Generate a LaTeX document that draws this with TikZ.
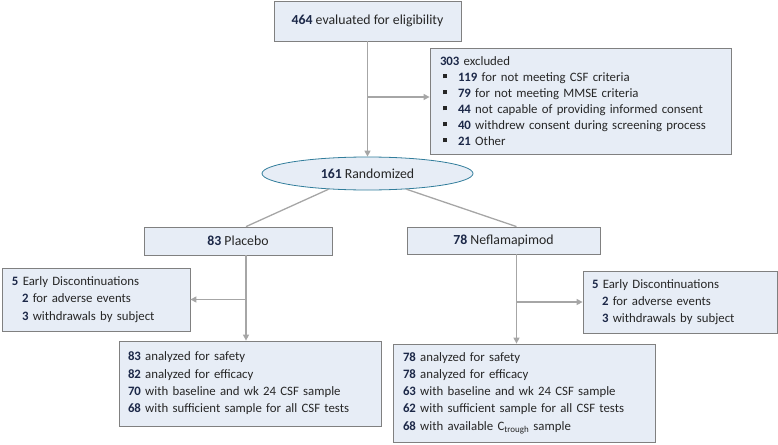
\documentclass[tikz,border=0pt]{standalone}
\usepackage{fontspec}
\setmainfont{Carlito}
\usepackage{tikz}
\usetikzlibrary{arrows.meta,shapes.geometric}
\definecolor{boxfill}{RGB}{231,237,246}
\definecolor{boxline}{RGB}{128,128,128}
\definecolor{ovalline}{RGB}{49,125,155}
\definecolor{linkgray}{RGB}{166,166,166}
\definecolor{numcol}{RGB}{28,40,72}
\definecolor{txtcol}{RGB}{38,38,38}
\newcommand{\nb}[1]{\textbf{\color{numcol}#1}}
\newcommand{\bul}{\hspace*{3pt}\rule[3pt]{4pt}{4pt}\hspace*{11pt}}
\newcommand{\ind}{\hspace*{10pt}}
\tikzset{
  box/.style={draw=boxline, fill=boxfill, line width=0.8pt, inner sep=0pt, text=txtcol,
    font=\fontsize{12.8}{17.3}\selectfont},
  titlebox/.style={box, font=\fontsize{13.8}{17}\selectfont},
  listbox/.style={box, align=left},
  link/.style={draw=linkgray, line width=1.3pt},
  arr/.style={link, -{Triangle[length=6pt,width=6pt]}},
}

\begin{document}
\begin{tikzpicture}[x=1pt, y=-1pt]
			%%%%% START %%%%%
			\useasboundingbox (0, 0) rectangle (778, 444);
			
			\node[titlebox, minimum width=187pt, minimum height=40pt] (elig) at (367.5, 21) {\nb{464} evaluated for eligibility};
			\node[listbox, text width=281pt, minimum height=106pt, inner xsep=10pt,
			  font=\fontsize{12.8}{16}\selectfont] (excl) at (580.5, 101)
			  {\nb{303} excluded\\
			   \bul\nb{119} for not meeting CSF criteria\\
			   \bul\nb{79} for not meeting MMSE criteria\\
			   \bul\nb{44} not capable of providing informed consent\\
			   \bul\nb{40} withdrew consent during screening process\\
			   \bul\nb{21} Other};
			\node[titlebox, ellipse, draw=ovalline, minimum width=211pt, minimum height=33pt] (rand) at (367.5, 173.5) {\nb{161} Randomized};
			
			\node[titlebox, minimum width=188pt, minimum height=28pt] (plac) at (238, 241) {\nb{83} Placebo};
			\node[titlebox, minimum width=193pt, minimum height=27pt] (nefl) at (503.5, 240.5) {\nb{78} Neflamapimod};
			
			\node[listbox, text width=168pt, minimum height=63pt, inner xsep=10pt] (discL) at (96, 299.5)
			  {\nb{5} Early Discontinuations\\ \ind\nb{2} for adverse events\\ \ind\nb{3} withdrawals by subject};
			\node[listbox, text width=176pt, minimum height=62pt, inner xsep=9pt] (discR) at (680, 302)
			  {\nb{5} Early Discontinuations\\ \ind\nb{2} for adverse events\\ \ind\nb{3} withdrawals by subject};
			
			\node[listbox, text width=244pt, minimum height=85pt, inner xsep=9pt] (resL) at (250, 383.5)
			  {\nb{83} analyzed for safety\\ \nb{82} analyzed for efficacy\\
			   \nb{70} with baseline and wk 24 CSF sample\\ \nb{68} with sufficient sample for all CSF tests};
			\node[listbox, text width=242pt, minimum height=98pt, inner xsep=10pt] (resR) at (524, 393)
			  {\nb{78} analyzed for safety\\ \nb{78} analyzed for efficacy\\
			   \nb{63} with baseline and wk 24 CSF sample\\ \nb{62} with sufficient sample for all CSF tests\\
			   \nb{68} with available C\textsubscript{trough} sample};
			
			% trunks
			\coordinate (trL) at (246, 0);
			\coordinate (trR) at (516.5, 0);
			
			\draw[arr] (elig.south) -- (rand.north);
			\draw[arr] (elig.south |- 0, 97) -- (excl.west |- 0, 97);
			
			\draw[link] (rand.202) -- (trL |- plac.north);
			\draw[link] (rand.338) -- (trR |- nefl.north);
			
			\draw[arr] (trL |- plac.south) -- (trL |- resL.north);
			\draw[arr] (trL |- discL.east) -- (discL.east);
			\draw[arr] (trR |- nefl.south) -- (trR |- resR.north);
			\draw[arr] (trR |- discR.west) -- (discR.west);
			%%%%% END %%%%%
\end{tikzpicture}
\end{document}
